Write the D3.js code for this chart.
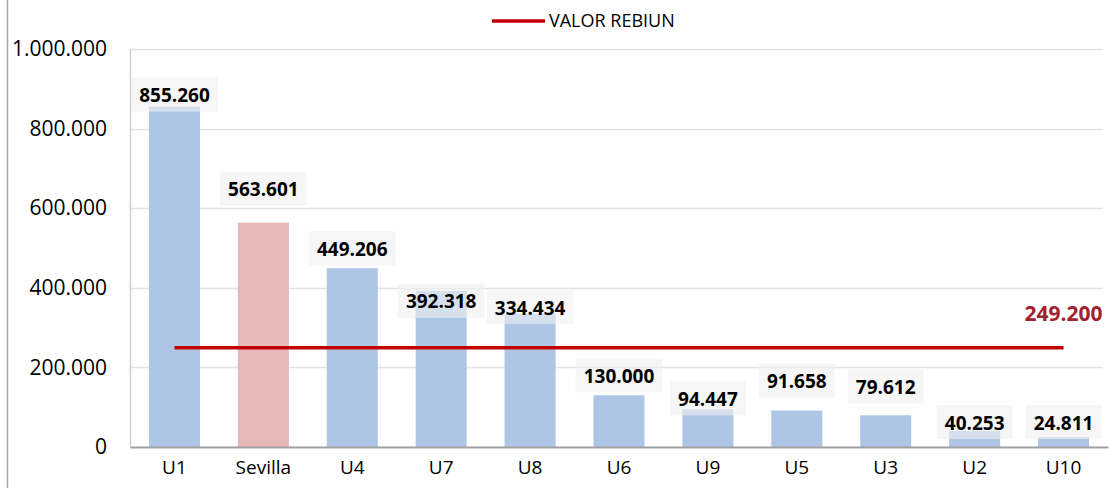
<!DOCTYPE html>
<html>
<head>
<meta charset="utf-8">
<script src="https://cdn.jsdelivr.net/npm/d3@7"></script>
<style>
  body { margin: 0; background: #fff; }
  svg { display: block; font-family: "Open Sans", sans-serif; }
</style>
</head>
<body>
<script>
// chart data
var categories = ['U1', 'Sevilla', 'U4', 'U7', 'U8', 'U6', 'U9', 'U5', 'U3', 'U2', 'U10'];
var values = [855260, 563601, 449206, 392318, 334434, 130000, 94447, 91658, 79612, 40253, 24811];
var highlight = 'Sevilla';
var rebiunValue = 249200;
var rebiunLabel = 'VALOR REBIUN';
var yTicks = [0, 200000, 400000, 600000, 800000, 1000000];

// label offsets from bar top (layout only)
var labelDy = [-12, -34, -20, 10, -7, -20, -11, -30, -29, -9, -15];

var width = 1109, height = 488;
var margin = {top: 49, right: 1, bottom: 41, left: 130};

var fmt = function (v) {
  return d3.format(',')(v).replace(/,/g, '.');
};

var svg = d3.select('body').append('svg')
    .attr('width', width)
    .attr('height', height);

var x = d3.scaleBand()
    .domain(categories)
    .range([margin.left, 1108])
    .paddingInner(0.426)
    .paddingOuter(0.213);

var y = d3.scaleLinear()
    .domain([0, 1000000])
    .range([height - margin.bottom, margin.top]);

// outer frame line at left
svg.append('line')
    .attr('x1', 7.5).attr('x2', 7.5)
    .attr('y1', 0).attr('y2', height)
    .attr('stroke', '#a6a6a6')
    .attr('stroke-width', 1.5);

// gridlines
svg.append('g')
    .selectAll('line')
    .data(yTicks.filter(function (d) { return d > 0; }))
    .enter().append('line')
    .attr('x1', margin.left).attr('x2', 1103)
    .attr('y1', function (d) { return Math.round(y(d)) + 0.5; })
    .attr('y2', function (d) { return Math.round(y(d)) + 0.5; })
    .attr('stroke', '#e3e3e3')
    .attr('stroke-width', 1.5);

// y axis
var yAxis = svg.append('g')
    .attr('transform', 'translate(' + margin.left + ',0)')
    .call(d3.axisLeft(y).tickValues(yTicks).tickFormat(fmt).tickSize(0).tickPadding(23));
yAxis.select('.domain').attr('stroke', '#d0d0d0').attr('stroke-width', 1.5);
yAxis.selectAll('text')
    .attr('font-size', 21)
    .attr('font-family', '"Open Sans", sans-serif')
    .attr('fill', '#000');

// bars
svg.append('g')
    .selectAll('rect')
    .data(values)
    .enter().append('rect')
    .attr('x', function (d, i) { return x(categories[i]); })
    .attr('y', function (d) { return y(d); })
    .attr('width', x.bandwidth())
    .attr('height', function (d) { return y(0) - y(d); })
    .attr('fill', function (d, i) { return categories[i] === highlight ? '#e6b8b7' : '#aec6e6'; });

// x axis
var xAxis = svg.append('g')
    .attr('transform', 'translate(0,' + y(0) + ')')
    .call(d3.axisBottom(x).tickSize(0).tickPadding(14));
xAxis.select('.domain').attr('stroke', '#a0a0a0').attr('stroke-width', 2);
xAxis.selectAll('text')
    .attr('font-size', 19)
    .attr('font-family', '"Open Sans", sans-serif')
    .attr('fill', '#000');

// data labels
var labels = svg.append('g')
    .selectAll('g')
    .data(values)
    .enter().append('g')
    .attr('transform', function (d, i) {
      return 'translate(' + (x(categories[i]) + x.bandwidth() / 2) + ',' + (y(d) + labelDy[i]) + ')';
    });

labels.append('rect')
    .attr('class', 'bg')
    .attr('fill', '#f0f0f0')
    .attr('fill-opacity', 0.6);

labels.append('text')
    .attr('text-anchor', 'middle')
    .attr('dy', '0.4em')
    .attr('font-size', 19)
    .attr('font-weight', 'bold')
    .attr('fill', '#000')
    .text(fmt);

labels.each(function () {
  var g = d3.select(this);
  var w = g.select('text').node().getComputedTextLength() + 16;
  g.select('rect.bg')
    .attr('x', -w / 2).attr('y', -17)
    .attr('width', w).attr('height', 34);
});

// REBIUN reference line
svg.append('line')
    .attr('x1', x(categories[0]) + x.bandwidth() / 2)
    .attr('x2', x(categories[categories.length - 1]) + x.bandwidth() / 2)
    .attr('y1', y(rebiunValue))
    .attr('y2', y(rebiunValue))
    .attr('stroke', '#c00000')
    .attr('stroke-width', 3.5);

svg.append('text')
    .attr('x', x(categories[categories.length - 1]) + x.bandwidth() / 2)
    .attr('y', y(rebiunValue) - 35)
    .attr('dy', '0.38em')
    .attr('text-anchor', 'middle')
    .attr('font-size', 21)
    .attr('font-weight', 'bold')
    .attr('fill', '#a3202f')
    .text(fmt(rebiunValue));

// legend
var legend = svg.append('g').attr('transform', 'translate(492,21)');
legend.append('line')
    .attr('x1', 0).attr('x2', 53)
    .attr('stroke', '#c00000')
    .attr('stroke-width', 3.5);
legend.append('text')
    .attr('x', 57)
    .attr('dy', '0.36em')
    .attr('font-size', 18)
    .attr('fill', '#000')
    .text(rebiunLabel);
</script>
</body>
</html>
